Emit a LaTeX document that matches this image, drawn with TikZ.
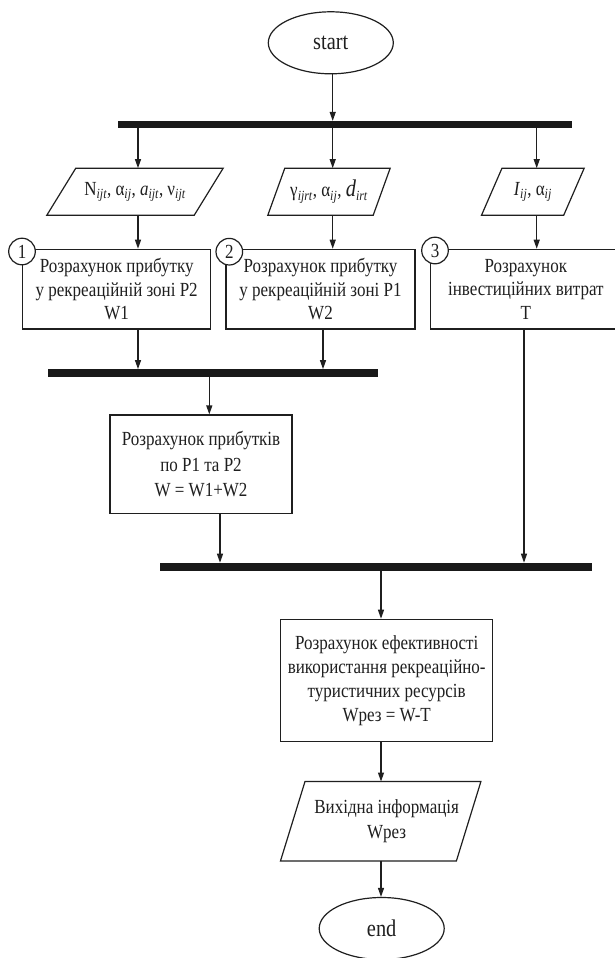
\documentclass[tikz,border=0pt]{standalone}
\usepackage{fontspec}
\setmainfont{Liberation Serif}[FakeStretch=0.85]
\usetikzlibrary{arrows.meta,shapes.geometric}
\newcommand{\sbs}[1]{\textsubscript{\itshape #1}}
\begin{document}
\begin{tikzpicture}[x=1pt,y=-1pt,
  ink/.style={draw=black!88, line width=1.2pt},
  txt/.style={font=\fontsize{20}{23.5}\selectfont, text=black!88, align=center, inner sep=0pt},
  procbox/.style={ink, txt, rectangle},
  term/.style={ink, txt, ellipse, minimum width=125pt, minimum height=62pt, font=\fontsize{24}{24}\selectfont},
  iobox/.style={txt, rectangle},
  bar/.style={fill=black!90, inner sep=0pt},
  num/.style={ink, fill=white, circle, minimum size=26.6pt, inner sep=0pt, txt},
  arr/.style={ink, -{Triangle[length=9pt,width=6pt]}},
  plain/.style={ink}
]
\fill[white] (0,0) rectangle (615,958);
\useasboundingbox (0,0) rectangle (615,958);

% columns for connectors
\coordinate (k1) at (138,0);
\coordinate (k2) at (332.7,0);
\coordinate (k3) at (536.7,0);
\coordinate (k4) at (323,0);
\coordinate (k5) at (209.3,0);
\coordinate (k6) at (220,0);
\coordinate (k7) at (524,0);
\coordinate (k8) at (381,0);

% terminals
\node[term] (start) at (330.8,42.8) {start};
\node[term] (end) at (381.7,928.5) {end};

% bars
\node[bar, minimum width=453.7pt, minimum height=6.8pt] (bar1) at (344.85,124.5) {};
\node[bar, minimum width=330.6pt, minimum height=7.4pt] (bar2) at (213,373) {};
\node[bar, minimum width=432.3pt, minimum height=7.8pt] (bar3) at (376.15,566.8) {};

% input parallelograms
\node[iobox, minimum width=176pt, minimum height=46.7pt] (p1) at (135,191.7)
  {N\sbs{ijt}, α\sbs{ij}, \textit{a}\sbs{ijt}, ν\sbs{ijt}};
\node[iobox, minimum width=122pt, minimum height=46.7pt] (p2) at (329,191.7)
  {γ\sbs{ijrt}, α\sbs{ij}, {\fontsize{24}{24}\selectfont\itshape d}\sbs{irt}};
\node[iobox, minimum width=102.3pt, minimum height=46.7pt] (p3) at (532.85,191.7)
  {\textit{I}\sbs{ij}, α\sbs{ij}};
\draw[ink] ([xshift=29pt]p1.north west) -- (p1.north east) -- ([xshift=-29pt]p1.south east) -- (p1.south west) -- cycle;
\draw[ink] ([xshift=17pt]p2.north west) -- (p2.north east) -- ([xshift=-17pt]p2.south east) -- (p2.south west) -- cycle;
\draw[ink] ([xshift=20.5pt]p3.north west) -- (p3.north east) -- ([xshift=-20.5pt]p3.south east) -- (p3.south west) -- cycle;

% process boxes
\node[procbox, minimum width=188pt, minimum height=79.7pt] (b1) at (116.7,289.15)
  {Розрахунок прибутку\\у рекреаційній зоні P2\\W1};
\node[procbox, minimum width=189pt, minimum height=79.7pt] (b2) at (320.5,289.15)
  {Розрахунок прибутку\\у рекреаційній зоні P1\\W2};
\node[procbox, minimum width=190.3pt, minimum height=79.7pt] (b3) at (525.85,289.15)
  {Розрахунок\\інвестиційних витрат\\T};
\node[procbox, minimum width=182pt, minimum height=98.3pt, font=\fontsize{20}{25.8}\selectfont] (b4) at (201,464.15)
  {Розрахунок прибутків\\по P1 та P2\\W = W1+W2};
\node[procbox, minimum width=212pt, minimum height=122.4pt, font=\fontsize{20}{23.9}\selectfont] (b5) at (386.7,680.5)
  {Розрахунок ефективності\\використання рекреаційно-\\туристичних ресурсів\\Wрез = W-T};

% output parallelogram
\node[iobox, minimum width=200pt, minimum height=79pt, font=\fontsize{20}{25}\selectfont] (pout) at (380.7,821.2)
  {\hspace*{12pt}Вихідна інформація\\\hspace*{12pt}Wрез};
\draw[ink] ([xshift=24.5pt]pout.north west) -- (pout.north east) -- ([xshift=-24.5pt]pout.south east) -- (pout.south west) -- cycle;

% numbered circles
\node[num] (n1) at (22,251.5) {1};
\node[num] (n2) at (229.3,251.7) {2};
\node[num] (n3) at (435,250.5) {3};

% connectors
\draw[arr] (k2 |- start.south) -- (k2 |- bar1.north);
\draw[arr] (k1 |- bar1.south) -- (k1 |- p1.north);
\draw[arr] (k2 |- bar1.south) -- (k2 |- p2.north);
\draw[arr] (k3 |- bar1.south) -- (k3 |- p3.north);
\draw[arr] (k1 |- p1.south) -- (k1 |- b1.north);
\draw[arr] (k2 |- p2.south) -- (k2 |- b2.north);
\draw[arr] (k3 |- p3.south) -- (k3 |- b3.north);
\draw[arr] (k1 |- b1.south) -- (k1 |- bar2.north);
\draw[arr] (k4 |- b2.south) -- (k4 |- bar2.north);
\draw[arr] (k5 |- bar2.south) -- (k5 |- b4.north);
\draw[arr] (k6 |- b4.south) -- (k6 |- bar3.north);
\draw[arr] (k7 |- b3.south) -- (k7 |- bar3.north);
\draw[arr] (k8 |- bar3.south) -- (k8 |- b5.north);
\draw[arr] (k8 |- b5.south) -- (k8 |- pout.north);
\draw[arr] (k8 |- pout.south) -- (k8 |- end.north);
\end{tikzpicture}
\end{document}
